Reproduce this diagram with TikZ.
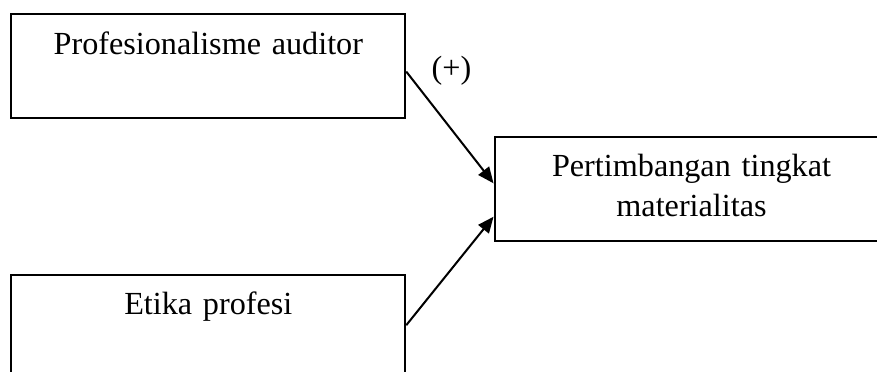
\documentclass[tikz,border=0pt]{standalone}
\usepackage{fontspec}
\setmainfont{Liberation Serif}
\usetikzlibrary{arrows.meta,positioning}

\begin{document}
\begin{tikzpicture}[font=\fontsize{12}{14.9}\selectfont,
    kotak/.style={draw, line width=0.75pt, minimum width=5.16cm, minimum height=1.362cm,
                  text width=4.8cm, align=center, inner sep=2pt},
    panah/.style={-{Triangle[length=6pt, width=5pt]}, line width=0.75pt}]
    \useasboundingbox (0,0) rectangle (11.489,4.873);

    % --- the three variables ---
    \node[kotak] (prof) at (2.729,4.005) {\strut Profesionalisme auditor\\\strut};
    \node[kotak] (etika) at (2.729,0.593) {\strut Etika profesi\\\strut};
    \node[kotak] (mat) at (9.059,2.401) {\strut Pertimbangan tingkat\\\strut materialitas};

    % --- the two influences ---
    \draw[panah] ([yshift=-0.07cm]prof.east) -- ([yshift=0.07cm]mat.west);
    \draw[panah] ([yshift=0.02cm]etika.east) -- ([yshift=-0.367cm]mat.west);
    \node (tanda) at (5.915,3.95) {(+)};
\end{tikzpicture}
\end{document}
